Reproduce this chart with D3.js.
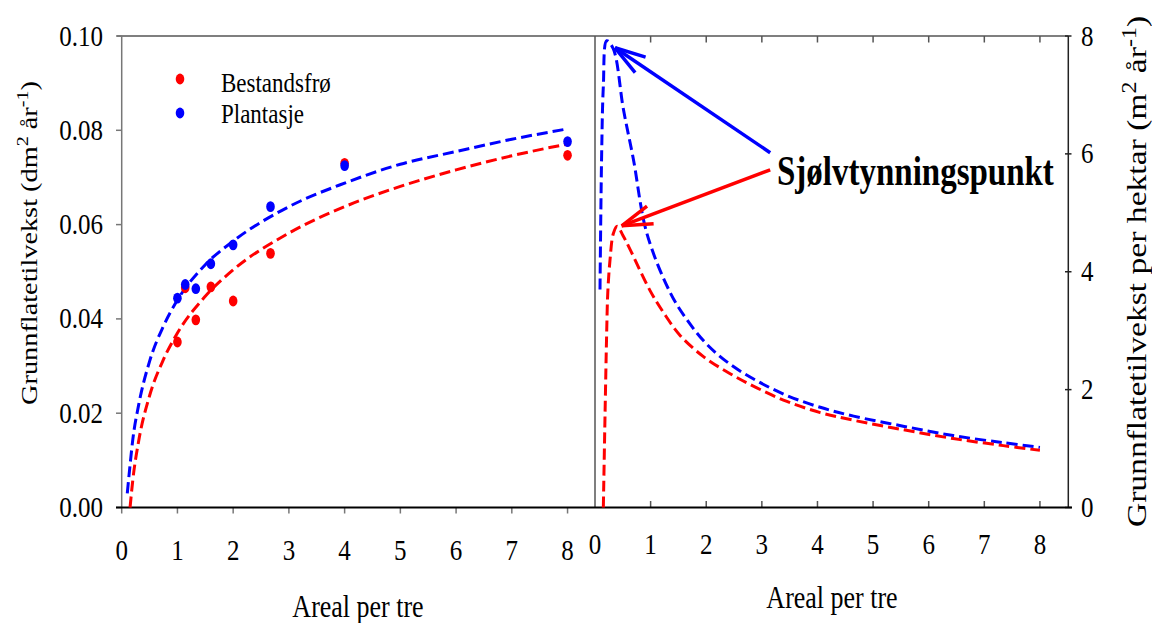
<!DOCTYPE html>
<html>
<head>
<meta charset="utf-8">
<script src="https://cdn.jsdelivr.net/npm/d3@7"></script>
<style>
    body { margin: 0; background: #fff; }
    svg { display: block; }
    text { font-family: 'Liberation Serif', 'Times New Roman', serif; fill: #000; }
</style>
</head>
<body>
<div class="chart"></div>
<script>
// tick labels
var xTicks = [0, 1, 2, 3, 4, 5, 6, 7, 8];
var yTicksLeft = [0, 0.02, 0.04, 0.06, 0.08, 0.10];
var yTicksRight = [0, 2, 4, 6, 8];

// measured points (left panel)
var arealPoints = [1, 1.14, 1.33, 1.6, 2, 2.67, 4, 8];
var bestandsfroPoints = [0.0351, 0.0466, 0.0398, 0.0468, 0.0438, 0.0539, 0.0730, 0.0747];
var plantasjePoints = [0.0444, 0.0473, 0.0464, 0.0517, 0.0557, 0.0638, 0.0725, 0.0776];

// fitted curves, per tree (left panel)
var plantasjeTreX = [0.10, 0.15, 0.2, 0.3, 0.5, 0.75, 1, 1.5, 2, 3, 4, 5, 6, 7, 8];
var plantasjeTreY = [0.003, 0.009, 0.0145, 0.0215, 0.031, 0.0385, 0.0440, 0.0515, 0.0565, 0.0638, 0.0688, 0.0728, 0.0755, 0.0781, 0.0803];
var bestandsfroTreX = [0.15, 0.2, 0.3, 0.5, 0.75, 1, 1.5, 2, 3, 4, 5, 6, 7, 8];
var bestandsfroTreY = [0.0, 0.0059, 0.0138, 0.0237, 0.0314, 0.0370, 0.0448, 0.0504, 0.0582, 0.0638, 0.0681, 0.0716, 0.0746, 0.0771];

// fitted curves, per hectare (right panel)
var plantasjeHaX = [0.09, 0.12, 0.15, 0.21, 0.33, 0.51, 0.69, 0.93, 1.35, 1.65, 2.0, 2.43, 2.91, 3.45, 4.05, 4.65, 5.54, 6.44, 7.34, 8.0];
var plantasjeHaY = [3.70, 6.02, 7.15, 7.92, 7.78, 6.76, 5.91, 4.66, 3.65, 3.19, 2.78, 2.43, 2.15, 1.90, 1.70, 1.55, 1.38, 1.22, 1.10, 1.02];
var bestandsfroHaX = [0.15, 0.18, 0.21, 0.23, 0.27, 0.33, 0.40, 0.50, 0.63, 0.99, 1.23, 1.53, 1.95, 2.43, 2.91, 3.45, 4.05, 4.65, 5.54, 6.44, 7.34, 8.0];
var bestandsfroHaY = [0.0, 1.55, 2.97, 3.65, 4.20, 4.65, 4.77, 4.62, 4.38, 3.68, 3.31, 2.92, 2.56, 2.27, 2.03, 1.80, 1.61, 1.48, 1.32, 1.17, 1.05, 0.97];

// arrows: [tailX, tailY, tipX, tipY] in right panel units
var arrowBlue = [3.15, 6.02, 0.36, 7.80];
var arrowRed = [3.15, 5.73, 0.48, 4.78];

var RED = '#ff0000', BLUE = '#0000ff';
var W = 1152, H = 623;
var topY = 36, bottomY = 507.5;

var svg = d3.select('.chart').append('svg')
    .attr('width', W)
    .attr('height', H);

var xL = d3.scaleLinear().domain([0, 8.48]).range([121.7, 594.3]);
var yL = d3.scaleLinear().domain([0, 0.1]).range([bottomY, topY]);
var xR = d3.scaleLinear().domain([0, 8.51]).range([595, 1068.3]);
var yR = d3.scaleLinear().domain([0, 8]).range([bottomY, topY]);

function zip(xs, ys) {
    return xs.map(function (x, i) { return [x, ys[i]]; });
}

// text is stretched a bit vertically in the original
function label(x, y, str, size, anchor, weight, sy) {
    return svg.append('text')
        .attr('transform', 'translate(' + x + ',' + y + ') scale(1,' + (sy || 1.2) + ')')
        .attr('text-anchor', anchor)
        .style('font-size', size + 'px')
        .style('font-weight', weight || 'normal')
        .text(str);
}

// frame
function line(x1, y1, x2, y2, color, w) {
    svg.append('line')
        .attr('x1', x1).attr('y1', y1).attr('x2', x2).attr('y2', y2)
        .attr('stroke', color)
        .attr('stroke-width', w || 1.5);
}
line(117, topY, 1068.3, topY, '#555');
line(121.7, topY, 121.7, bottomY, '#777');
line(595, topY, 595, bottomY, '#555');
line(1068.3, topY, 1068.3, bottomY, '#222');

// left ticks
yTicksLeft.forEach(function (d) {
    line(116, yL(d), 121.7, yL(d), '#777');
    label(103, yL(d) + 9.5, d.toFixed(2), 25, 'end');
});
xTicks.forEach(function (d) {
    line(xL(d), bottomY, xL(d), bottomY + 6, '#777');
    label(xL(d), 560, d, 25, 'middle');
});

// right ticks
xTicks.forEach(function (d) {
    if (d > 0) {
        line(xR(d), bottomY, xR(d), bottomY - 6.5, '#555');
        line(xR(d), topY, xR(d), topY + 6.5, '#555');
    }
    label(xR(d), 554, d, 25, 'middle');
});
yTicksRight.forEach(function (d) {
    line(1065, yR(d), 1071.5, yR(d), '#222');
    label(1081, yR(d) + 9.5, d, 25, 'start');
});

line(116, bottomY, 1072, bottomY, '#000', 1.8);

// axis titles
label(358, 617, 'Areal per tre', 26, 'middle');
label(832, 608, 'Areal per tre', 26, 'middle');

var tl = svg.append('text')
    .attr('transform', 'translate(37,243) rotate(-90) scale(1.18,1)')
    .attr('text-anchor', 'middle')
    .style('font-size', '24px');
tl.append('tspan').text('Grunnflatetilvekst (dm');
tl.append('tspan').attr('dy', -9).style('font-size', '17px').text('2');
tl.append('tspan').attr('dy', 9).text(' år');
tl.append('tspan').attr('dy', -9).style('font-size', '17px').text('-1');
tl.append('tspan').attr('dy', 9).text(')');

var tr = svg.append('text')
    .attr('transform', 'translate(1146,271.5) rotate(-90) scale(1.2,1)')
    .attr('text-anchor', 'middle')
    .style('font-size', '28px');
tr.append('tspan').text('Grunnflatetilvekst per hektar (m');
tr.append('tspan').attr('dy', -10).style('font-size', '20px').text('2');
tr.append('tspan').attr('dy', 10).text(' år');
tr.append('tspan').attr('dy', -10).style('font-size', '20px').text('-1');
tr.append('tspan').attr('dy', 10).text(')');

// curves
var lineL = d3.line()
    .x(function (d) { return xL(d[0]); })
    .y(function (d) { return yL(d[1]); })
    .curve(d3.curveMonotoneX);
var lineR = d3.line()
    .x(function (d) { return xR(d[0]); })
    .y(function (d) { return yR(d[1]); })
    .curve(d3.curveCatmullRom.alpha(0.5));

var curves = [
    { gen: lineL, data: zip(plantasjeTreX, plantasjeTreY), color: BLUE },
    { gen: lineL, data: zip(bestandsfroTreX, bestandsfroTreY), color: RED },
    { gen: lineR, data: zip(plantasjeHaX, plantasjeHaY), color: BLUE },
    { gen: lineR, data: zip(bestandsfroHaX, bestandsfroHaY), color: RED }
];
curves.forEach(function (c) {
    svg.append('path')
        .attr('d', c.gen(c.data))
        .attr('fill', 'none')
        .attr('stroke', c.color)
        .attr('stroke-width', 3)
        .attr('stroke-dasharray', '11,5');
});

// points, red under blue
svg.selectAll('.dot-red').data(zip(arealPoints, bestandsfroPoints))
    .enter().append('ellipse')
    .attr('class', 'dot-red')
    .attr('cx', function (d) { return xL(d[0]); })
    .attr('cy', function (d) { return yL(d[1]); })
    .attr('rx', 4.3).attr('ry', 5.4)
    .style('fill', RED);
svg.selectAll('.dot-blue').data(zip(arealPoints, plantasjePoints))
    .enter().append('ellipse')
    .attr('class', 'dot-blue')
    .attr('cx', function (d) { return xL(d[0]); })
    .attr('cy', function (d) { return yL(d[1]); })
    .attr('rx', 4.3).attr('ry', 5.4)
    .style('fill', BLUE);

// legend
svg.append('ellipse').attr('cx', 180).attr('cy', 79).attr('rx', 4.3).attr('ry', 5.4).style('fill', RED);
svg.append('ellipse').attr('cx', 180).attr('cy', 113).attr('rx', 4.3).attr('ry', 5.4).style('fill', BLUE);
label(221, 91.7, 'Bestandsfrø', 23, 'start');
label(221, 123.3, 'Plantasje', 23, 'start');

// annotation
function arrow(a, color) {
    var x1 = xR(a[0]), y1 = yR(a[1]), x2 = xR(a[2]), y2 = yR(a[3]);
    var ang = Math.atan2(y1 - y2, x1 - x2), spread = 17 * Math.PI / 180, len = 32;
    var g = svg.append('g')
        .attr('stroke', color)
        .attr('stroke-width', 3.5)
        .attr('fill', 'none');
    g.append('line').attr('x1', x1).attr('y1', y1).attr('x2', x2).attr('y2', y2);
    [-1, 1].forEach(function (s) {
        g.append('line')
            .attr('x1', x2).attr('y1', y2)
            .attr('x2', x2 + len * Math.cos(ang + s * spread))
            .attr('y2', y2 + len * Math.sin(ang + s * spread));
    });
}
arrow(arrowBlue, BLUE);
arrow(arrowRed, RED);
label(777, 185, 'Sjølvtynningspunkt', 33, 'start', 'bold', 1.27);
</script>
</body>
</html>
